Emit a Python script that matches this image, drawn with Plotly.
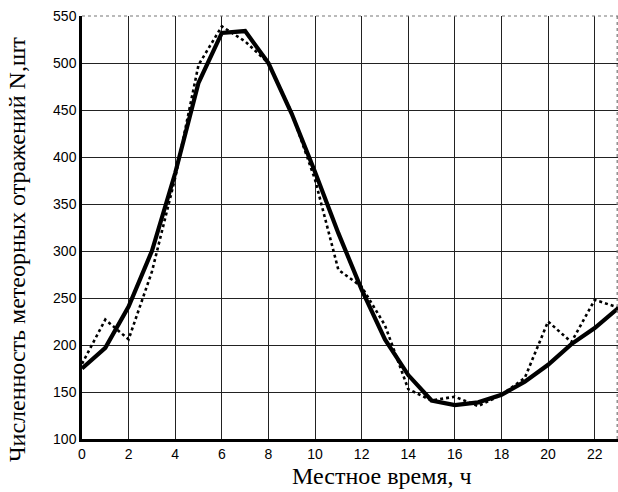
import plotly.graph_objects as go

hours = list(range(24))
model = [175, 197, 241, 300, 383, 479, 532, 534, 500, 446, 384, 319,
         259, 206, 168, 141, 136, 139, 147, 161, 179, 201, 218, 239]
observed = [180, 227, 206, 278, 378, 498, 539, 523, 500, 447, 376, 280,
            262, 221, 153, 141, 145, 135, 147, 165, 225, 203, 248, 240]

x_ticks = list(range(0, 24, 2))
y_ticks = list(range(100, 551, 50))

fig = go.Figure()
fig.add_trace(go.Scatter(x=hours, y=observed, mode="lines",
                         line=dict(color="black", width=2.6, dash="dot"),
                         showlegend=False))
fig.add_trace(go.Scatter(x=hours, y=model, mode="lines",
                         line=dict(color="black", width=4.2),
                         showlegend=False))

fig.update_layout(
    width=618, height=492,
    margin=dict(l=82, r=0, t=16, b=53),
    paper_bgcolor="white", plot_bgcolor="white",
    font=dict(family="Liberation Sans, Arial", size=14, color="black"),
)
fig.update_xaxes(range=[0, 23], tickvals=x_ticks, ticktext=[str(v) for v in x_ticks],
                 showgrid=True, gridcolor="#222222", gridwidth=1.4,
                 showline=True, linecolor="black", linewidth=2.5,
                 zeroline=False, ticks="", ticklen=0,
                 tickfont=dict(family="Liberation Sans, Arial", size=14))
fig.update_yaxes(range=[100, 550], tickvals=y_ticks,
                 showgrid=True, gridcolor="#222222", gridwidth=1.4,
                 showline=True, linecolor="black", linewidth=2.5,
                 zeroline=False, ticks="", ticklen=0,
                 tickfont=dict(family="Liberation Sans, Arial", size=14))

# dotted top and right frame
fig.add_shape(type="line", xref="paper", yref="paper", x0=0, x1=1, y0=1, y1=1,
              line=dict(color="#777777", width=1.2, dash="dot"))
fig.add_shape(type="line", xref="paper", yref="paper", x0=0.9985, x1=0.9985, y0=0, y1=1,
              line=dict(color="#777777", width=1.2, dash="dot"))

fig.add_annotation(text="Местное время, ч", xref="paper", yref="paper",
                   x=0.558, y=-0.088, xanchor="center", yanchor="middle",
                   showarrow=False, borderpad=0,
                   font=dict(family="Liberation Serif, Times New Roman", size=24, color="black"))
fig.add_annotation(text="Численность метеорных отражений N,шт", xref="paper", yref="paper",
                   x=-0.121, y=0.447, xanchor="center", yanchor="middle", textangle=-90,
                   showarrow=False, borderpad=0,
                   font=dict(family="Liberation Serif, Times New Roman", size=24, color="black"))

fig.write_html("out.html", config={"displayModeBar": False},
               post_script="document.body.style.margin='0';document.body.style.overflow='hidden';")
